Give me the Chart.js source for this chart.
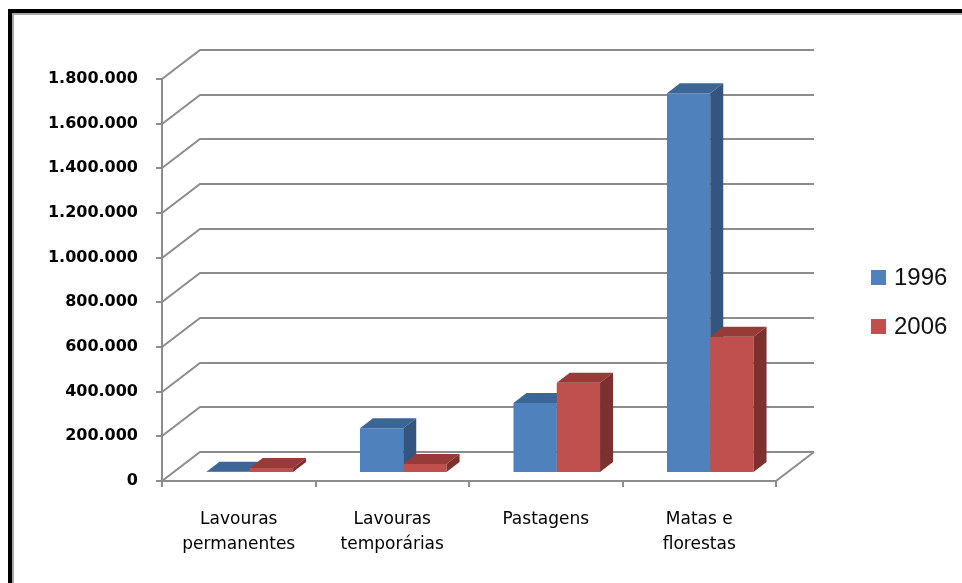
<!DOCTYPE html>
<html>
<head>
<meta charset="utf-8">
<script src="https://cdn.jsdelivr.net/npm/chart.js@4.4.1/dist/chart.umd.min.js"></script>
<style>
  html, body { margin: 0; padding: 0; background: #fff; }
  #wrap { position: relative; width: 962px; height: 583px; overflow: hidden; }
  #frame { position: absolute; left: 8px; top: 9px; right: -20px; bottom: -20px;
           border-left: 4px solid #000; border-top: 4px solid #000; }
  #frame::after { content: ''; position: absolute; left: 0; top: 0; right: 0; bottom: 0;
           border-left: 2px solid #a8a8a8; border-top: 2px solid #a8a8a8; }
  canvas { position: absolute; left: 0; top: 0; }
</style>
</head>
<body>
<div id="wrap">
  <div id="frame"></div>
  <canvas id="chart" width="962" height="583"></canvas>
</div>
<script>
// Land use (hectares), 1996 vs 2006
const categories = [['Lavouras', 'permanentes'], ['Lavouras', 'temporárias'], ['Pastagens'], ['Matas e', 'florestas']];
const seriesNames = ['1996', '2006'];
const values1996 = [6000, 200000, 313000, 1700000];
const values2006 = [22000, 40000, 404000, 610000];
const yTickLabels = ['0', '200.000', '400.000', '600.000', '800.000', '1.000.000',
                     '1.200.000', '1.400.000', '1.600.000', '1.800.000'];

// Pseudo-3D geometry (pixels)
const WALL_DX = 38, WALL_DY = -29;   // depth of the walls / floor
const BAR_SHIFT_X = 11, BAR_SHIFT_Y = -8; // bars sit a little behind the front plane
const BAR_DX = 13, BAR_DY = -10;     // depth of each column
const GRID = '#8c8c8c';

const faces = [
  { front: '#4F81BD', top: '#3C6696', side: '#33557F' },
  { front: '#C0504D', top: '#973B39', side: '#7D302E' }
];

const depth3d = {
  id: 'depth3d',
  beforeDatasetsDraw(chart) {
    const { ctx, chartArea: a, scales: { y } } = chart;
    // walls: diagonal on the side wall, horizontal on the back wall
    ctx.save();
    ctx.strokeStyle = GRID;
    ctx.lineWidth = 2;
    y.ticks.forEach(t => {
      const py = Math.round(y.getPixelForValue(t.value));
      ctx.beginPath();
      ctx.moveTo(a.left, py);
      ctx.lineTo(a.left + WALL_DX, py + WALL_DY);
      ctx.lineTo(a.right + WALL_DX, py + WALL_DY);
      ctx.stroke();
    });
    ctx.beginPath();
    ctx.moveTo(a.right, a.bottom);
    ctx.lineTo(a.right + WALL_DX, a.bottom + WALL_DY);
    ctx.stroke();
    ctx.restore();

    // columns, left to right so nearer faces cover hidden ones
    ctx.save();
    ctx.translate(BAR_SHIFT_X, BAR_SHIFT_Y);
    const metas = chart.data.datasets.map((d, i) => chart.getDatasetMeta(i));
    const n = chart.data.labels.length;
    for (let i = 0; i < n; i++) {
      metas.forEach((meta, di) => {
        const bar = meta.data[i];
        bar.draw(ctx);
        const { x, y: top, base, width } = bar.getProps(['x', 'y', 'base', 'width'], true);
        const l = x - width / 2, r = x + width / 2;
        ctx.fillStyle = faces[di].top;
        ctx.beginPath();
        ctx.moveTo(l, top);
        ctx.lineTo(l + BAR_DX, top + BAR_DY);
        ctx.lineTo(r + BAR_DX, top + BAR_DY);
        ctx.lineTo(r, top);
        ctx.closePath();
        ctx.fill();
        ctx.fillStyle = faces[di].side;
        ctx.beginPath();
        ctx.moveTo(r, top);
        ctx.lineTo(r + BAR_DX, top + BAR_DY);
        ctx.lineTo(r + BAR_DX, base + BAR_DY);
        ctx.lineTo(r, base);
        ctx.closePath();
        ctx.fill();
      });
    }
    ctx.restore();
    return false;
  },
  afterDraw(chart) {
    const ctx = chart.ctx;
    ctx.save();
    ctx.font = '24px "Liberation Sans", Arial, sans-serif';
    ctx.textBaseline = 'middle';
    ctx.textAlign = 'left';
    chart.data.datasets.forEach((d, i) => {
      const cy = 277.5 + i * 49;
      ctx.fillStyle = d.backgroundColor;
      ctx.fillRect(871, cy - 7.5, 15, 15);
      ctx.fillStyle = '#111';
      ctx.fillText(d.label, 894, cy + 1);
    });
    ctx.restore();
  }
};

new Chart(document.getElementById('chart'), {
  type: 'bar',
  data: {
    labels: categories,
    datasets: [
      { label: seriesNames[0], data: values1996, backgroundColor: faces[0].front },
      { label: seriesNames[1], data: values2006, backgroundColor: faces[1].front }
    ]
  },
  options: {
    responsive: false,
    animation: false,
    layout: { padding: { top: 79, right: 186, bottom: 0, left: 0 } },
    datasets: { bar: { categoryPercentage: 0.564, barPercentage: 1.0, borderWidth: 0 } },
    plugins: { legend: { display: false }, tooltip: { enabled: false } },
    scales: {
      x: {
        grid: { drawOnChartArea: false, tickLength: 6, color: GRID, lineWidth: 2, offset: true },
        border: { color: GRID, width: 2 },
        ticks: {
          color: '#000', autoSkip: false, maxRotation: 0, padding: 20,
          font: { family: '"DejaVu Sans", sans-serif', size: 17, lineHeight: 1.47 }
        },
        afterFit(s) { s.height = 102; }
      },
      y: {
        min: 0, max: 1800000,
        grid: { drawOnChartArea: false, tickLength: 6, color: GRID, lineWidth: 2 },
        border: { color: GRID, width: 2 },
        ticks: {
          stepSize: 200000, color: '#000', padding: 18,
          font: { family: '"DejaVu Sans", sans-serif', size: 16, weight: 'bold' },
          callback: (v, i) => yTickLabels[i]
        },
        afterFit(s) { s.width = 162; }
      }
    }
  },
  plugins: [depth3d]
});
</script>
</body>
</html>
